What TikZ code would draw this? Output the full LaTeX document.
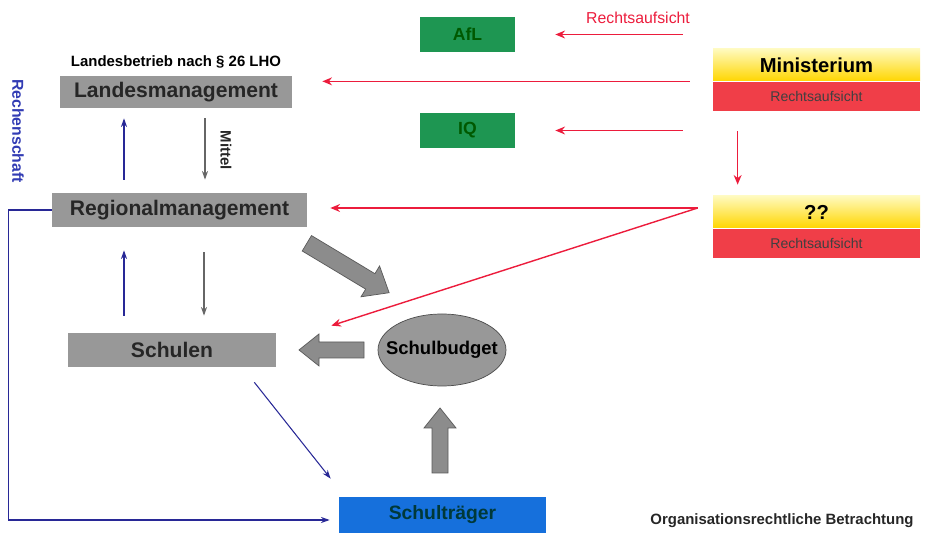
\documentclass[tikz,border=0pt]{standalone}
\usepackage{fontspec}
\setmainfont{Liberation Sans}
\usetikzlibrary{positioning,shapes.geometric,arrows.meta}
\definecolor{boxgray}{RGB}{152,152,152}
\definecolor{amtgreen}{RGB}{30,150,82}
\definecolor{aufsichtred}{RGB}{240,62,72}
\definecolor{linered}{RGB}{236,28,60}
\definecolor{goldyellow}{RGB}{255,214,0}
\definecolor{paleyellow}{RGB}{255,250,190}
\definecolor{traegerblue}{RGB}{22,112,220}
\definecolor{navy}{RGB}{40,40,150}
\definecolor{labelblue}{RGB}{50,60,180}
\definecolor{arrowgray}{RGB}{140,140,140}
\begin{document}
\begin{tikzpicture}[
    mgmt/.style={
      fill=boxgray,
      inner sep=2pt,
      text=black!85,
      font=\bfseries\fontsize{12}{14}\selectfont
    },
    amt/.style={
      fill=amtgreen,
      minimum width=1.9cm,
      minimum height=0.7cm,
      text=green!35!black,
      font=\bfseries\fontsize{10}{12}\selectfont
    },
    headbox/.style={
      top color=paleyellow,
      bottom color=goldyellow,
      minimum width=4.14cm,
      minimum height=0.64cm,
      inner sep=0pt,
      font=\bfseries\fontsize{11.5}{14}\selectfont
    },
    subbox/.style={
      fill=aufsichtred,
      minimum width=4.14cm,
      minimum height=0.58cm,
      inner sep=0pt,
      text=black!75,
      font=\fontsize{8}{10}\selectfont
    },
    recht/.style={linered, thick, -{Stealth[length=5.5pt,width=4.5pt]}},
    mittel/.style={gray!80!black, semithick, -{Stealth[length=5pt,width=3.5pt]}},
    rechenschaft/.style={navy, semithick, -{Stealth[length=5pt,width=3.5pt]}},
    blockarrow/.style={draw=black!65, fill=arrowgray, line join=miter}
  ]
    \useasboundingbox (0,0) rectangle (18.52,-10.66);
    \node[mgmt, minimum width=4.64cm, minimum height=0.64cm] (landes) at (3.52,-1.84) {Landesmanagement};
    \node[font=\bfseries\fontsize{8.5}{10}\selectfont, above=1pt of landes] (betrieb) {Landesbetrieb nach § 26 LHO};
    \node[mgmt, minimum width=5.1cm, minimum height=0.68cm] (regional) at (3.59,-4.2) {Regionalmanagement};
    \node[mgmt, minimum width=4.16cm, minimum height=0.68cm] (schulen) at (3.44,-7.0) {Schulen};
    \node[ellipse, draw=black!70, fill=boxgray, minimum width=2.56cm, minimum height=1.44cm, inner xsep=-0.25cm,
      font=\bfseries\fontsize{10.5}{12}\selectfont] (budget) at (8.84,-7.0) {Schulbudget};
    \node[fill=traegerblue, minimum width=4.14cm, minimum height=0.72cm, text=teal!45!black,
      font=\bfseries\fontsize{11}{13}\selectfont] (traeger) at (8.85,-10.3) {Schulträger};
    \node[amt] (afl) at (9.35,-0.69) {AfL};
    \node[amt] (iq) at (9.35,-2.61) {IQ};
    \node[headbox] (mtop) at (16.33,-1.3) {Ministerium};
    \node[subbox, below=0pt of mtop] (mrecht) {Rechtsaufsicht};
    \node[headbox] (utop) at (16.33,-4.24) {??};
    \node[subbox, below=0pt of utop] (urecht) {Rechtsaufsicht};
    \node[text=linered, font=\fontsize{9}{11}\selectfont] (rechtlabel) at (12.76,-0.36) {Rechtsaufsicht};
    \node[text=labelblue, rotate=-90, font=\bfseries\fontsize{9}{11}\selectfont] (rechenschaftlabel) at (0.36,-2.62) {Rechenschaft};
    \node[text=black!85, font=\bfseries\fontsize{8.5}{10}\selectfont] (titel) at (15.64,-10.42) {Organisationsrechtliche Betrachtung};

    \draw[recht, shorten <=0.6cm, shorten >=0.8cm] (afl.east -| mtop.west) -- (afl.east);
    \draw[recht, shorten <=0.46cm, shorten >=0.6cm] (mtop.south west) -- (mtop.south west -| landes.east);
    \draw[recht, shorten <=0.6cm, shorten >=0.8cm] (iq.east -| mtop.west) -- (iq.east);
    \draw[recht, shorten <=0.4cm, shorten >=0.22cm] ([xshift=0.5cm]mrecht.south west) -- ([xshift=0.5cm]utop.north west);
    \coordinate (fork) at ([xshift=-0.3cm,yshift=0.08cm]utop.west);
    \coordinate (schulentip) at ([xshift=1.1cm,yshift=0.14cm]schulen.north east);
    \draw[recht, shorten >=0.46cm] (fork) -- (fork -| regional.east);
    \draw[recht] (fork) -- (schulentip);

    \draw[mittel, shorten <=0.2cm, shorten >=0.26cm] ([xshift=0.58cm]landes.south) -- ([xshift=0.58cm]landes.south |- regional.north)
      node[midway, xshift=0.42cm, rotate=-90, text=black!85, font=\bfseries\fontsize{8.5}{10}\selectfont] (mittellabel) {Mittel};
    \draw[rechenschaft, shorten <=0.26cm, shorten >=0.2cm] ([xshift=-1.04cm]landes.south |- regional.north) -- ([xshift=-1.04cm]landes.south);
    \draw[mittel, shorten <=0.5cm, shorten >=0.34cm] ([xshift=0.64cm]schulen.north |- regional.south) -- ([xshift=0.64cm]schulen.north);
    \draw[rechenschaft, shorten <=0.34cm, shorten >=0.46cm] ([xshift=-0.96cm]schulen.north) -- ([xshift=-0.96cm]schulen.north |- regional.south);
    \draw[rechenschaft] ([xshift=-0.44cm,yshift=-0.3cm]schulen.south east) -- ([xshift=-0.16cm,yshift=0.36cm]traeger.north west);
    \draw[rechenschaft] (regional.west) -- ++(-0.86,0) |- ([xshift=-0.18cm,yshift=-0.1cm]traeger.west);

    \draw[blockarrow, shift={(6.96,-5.36)}, rotate=-31]
      (-0.96,-0.18) -- (0.52,-0.18) -- (0.52,-0.36) -- (0.96,0) -- (0.52,0.36) -- (0.52,0.18) -- (-0.96,0.18) -- cycle;
    \draw[blockarrow, shift={(6.63,-7.0)}, rotate=180]
      (-0.65,-0.16) -- (0.25,-0.16) -- (0.25,-0.32) -- (0.65,0) -- (0.25,0.32) -- (0.25,0.16) -- (-0.65,0.16) -- cycle;
    \draw[blockarrow, shift={(8.8,-8.81)}, rotate=90]
      (-0.65,-0.16) -- (0.25,-0.16) -- (0.25,-0.32) -- (0.65,0) -- (0.25,0.32) -- (0.25,0.16) -- (-0.65,0.16) -- cycle;
  \end{tikzpicture}
\end{document}
